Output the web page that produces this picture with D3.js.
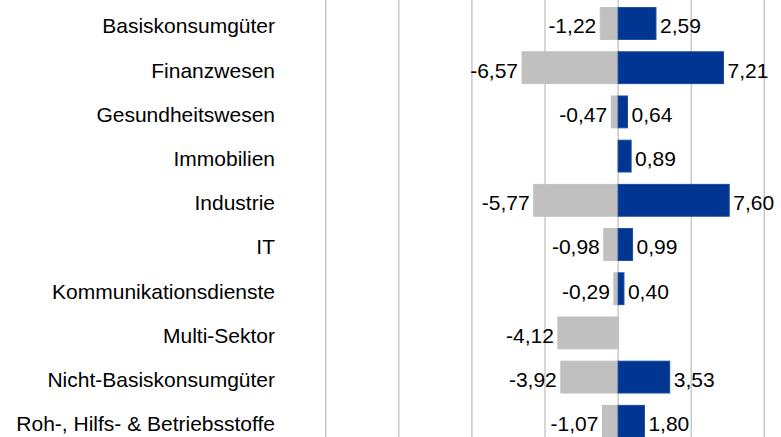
<!DOCTYPE html>
<html>
<head>
<meta charset="utf-8">
<script src="https://cdn.jsdelivr.net/npm/d3@7"></script>
<style>
  body { margin: 0; background: #fff; }
  text { font-family: "Liberation Sans", Arial, sans-serif; font-size: 21px; fill: #000; }
</style>
</head>
<body>
<div id="chart"></div>
<script>
// sectors, top to bottom
var categories = ["Basiskonsumgüter", "Finanzwesen", "Gesundheitswesen", "Immobilien", "Industrie",
  "IT", "Kommunikationsdienste", "Multi-Sektor", "Nicht-Basiskonsumgüter", "Roh-, Hilfs- & Betriebsstoffe"];
// grey series (negative) and blue series (positive), null = no bar
var negValues = [-1.22, -6.57, -0.47, null, -5.77, -0.98, -0.29, -4.12, -3.92, -1.07];
var posValues = [2.59, 7.21, 0.64, 0.89, 7.60, 0.99, 0.40, null, 3.53, 1.80];
var gridTicks = [-20, -15, -10, -5, 0, 5, 10];

var width = 781, height = 437;

var svg = d3.select("#chart").append("svg")
  .attr("width", width)
  .attr("height", height);

var x = d3.scaleLinear().domain([-20, 10]).range([325.7, 764.3]);
var y = d3.scaleBand().domain(categories)
  .range([1.4, 1.4 + 44.2 * 10])
  .paddingInner(0.28)
  .paddingOuter(0.14);

// german decimal comma, plain hyphen as minus
var fmt = function(v) { return d3.format(".2f")(v).replace(".", ",").replace("\u2212", "-"); };

// vertical grid lines
svg.append("g").selectAll("line")
  .data(gridTicks)
  .enter().append("line")
  .attr("x1", function(d) { return x(d); })
  .attr("x2", function(d) { return x(d); })
  .attr("y1", 0)
  .attr("y2", height)
  .style("stroke", "#c6c6c6")
  .style("stroke-width", 1.4);

var rows = categories.map(function(c, i) {
  return { cat: c, neg: negValues[i], pos: posValues[i] };
});

// grey bars
svg.append("g").selectAll("rect")
  .data(rows.filter(function(d) { return d.neg != null; }))
  .enter().append("rect")
  .attr("x", function(d) { return x(d.neg); })
  .attr("y", function(d) { return y(d.cat); })
  .attr("width", function(d) { return x(0) - x(d.neg); })
  .attr("height", y.bandwidth())
  .style("fill", "#c0c0c0")
  .style("stroke", "#c0c0c0")
  .style("stroke-width", 1);

// blue bars
svg.append("g").selectAll("rect")
  .data(rows.filter(function(d) { return d.pos != null; }))
  .enter().append("rect")
  .attr("x", x(0))
  .attr("y", function(d) { return y(d.cat); })
  .attr("width", function(d) { return x(d.pos) - x(0); })
  .attr("height", y.bandwidth())
  .style("fill", "#003591")
  .style("stroke", "#1a4a9e")
  .style("stroke-width", 1);

// value labels
svg.append("g").selectAll("text")
  .data(rows.filter(function(d) { return d.neg != null; }))
  .enter().append("text")
  .attr("x", function(d) { return x(d.neg) - 4; })
  .attr("y", function(d) { return y(d.cat) + y.bandwidth() / 2; })
  .attr("dy", "0.47em")
  .attr("text-anchor", "end")
  .text(function(d) { return fmt(d.neg); });

svg.append("g").selectAll("text")
  .data(rows.filter(function(d) { return d.pos != null; }))
  .enter().append("text")
  .attr("x", function(d) { return x(d.pos) + 4; })
  .attr("y", function(d) { return y(d.cat) + y.bandwidth() / 2; })
  .attr("dy", "0.47em")
  .text(function(d) { return fmt(d.pos); });

// category labels
svg.append("g").selectAll("text")
  .data(categories)
  .enter().append("text")
  .attr("x", 275)
  .attr("y", function(d) { return y(d) + y.bandwidth() / 2; })
  .attr("dy", "0.47em")
  .attr("text-anchor", "end")
  .text(function(d) { return d; });
</script>
</body>
</html>
